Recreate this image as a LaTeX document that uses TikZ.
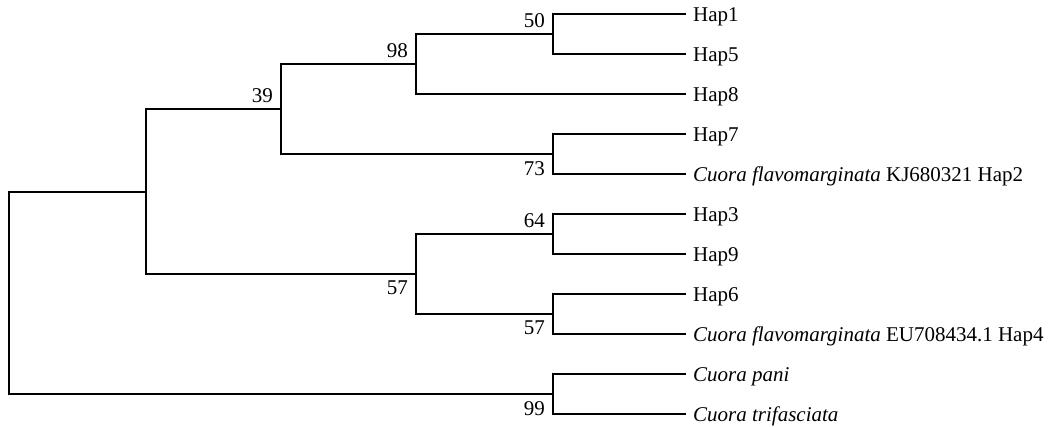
\documentclass[tikz,border=0pt]{standalone}
\usepackage{fontspec}
\setmainfont{Liberation Serif}
\usetikzlibrary{positioning}

\begin{document}
\begin{tikzpicture}[
        x=1pt, y=-1pt,
        every node/.style = {font=\fontsize{21}{24}\selectfont},
        branch/.style = {draw, line width=1.5pt, line cap=rect},
        leaf/.style = {anchor=west, inner xsep=8pt, inner ysep=0pt, text height=16pt, text depth=0pt},
        bsup/.style = {anchor=south east, inner sep=0pt, xshift=-8pt, yshift=6pt},
        bsdown/.style = {anchor=north east, inner sep=0pt, xshift=-8pt, yshift=-7pt}
      ]
      \useasboundingbox (0,0) rectangle (1053,427);

      % ================= LEAVES =================
      \node[leaf] (hap1) at (685,14) {Hap1};
      \node[leaf] (hap5) at (685,54) {Hap5};
      \node[leaf] (hap8) at (685,94) {Hap8};
      \node[leaf] (hap7) at (685,134) {Hap7};
      \node[leaf] (hap2) at (685,174) {\textit{Cuora flavomarginata} KJ680321 Hap2};
      \node[leaf] (hap3) at (685,214) {Hap3};
      \node[leaf] (hap9) at (685,254) {Hap9};
      \node[leaf] (hap6) at (685,294) {Hap6};
      \node[leaf] (hap4) at (685,334) {\textit{Cuora flavomarginata} EU708434.1 Hap4};
      \node[leaf] (pani) at (685,374) {\textit{Cuora pani}};
      \node[leaf] (trif) at (685,414) {\textit{Cuora trifasciata}};

      % ================= INNER NODES =================
      \coordinate (n50) at (553,34);
      \coordinate (n98) at (416,64);
      \coordinate (n73) at (553,154);
      \coordinate (n39) at (281,109);
      \coordinate (n64) at (553,234);
      \coordinate (n57b) at (553,314);
      \coordinate (n57a) at (416,274);
      \coordinate (nin) at (146,192);
      \coordinate (n99) at (553,394);
      \coordinate (root) at (9,293);

      % ================= BRANCHES =================
      \draw[branch] (n50) |- (hap1.west);
      \draw[branch] (n50) |- (hap5.west);
      \draw[branch] (n98) |- (n50);
      \draw[branch] (n98) |- (hap8.west);
      \draw[branch] (n73) |- (hap7.west);
      \draw[branch] (n73) |- (hap2.west);
      \draw[branch] (n39) |- (n98);
      \draw[branch] (n39) |- (n73);
      \draw[branch] (n64) |- (hap3.west);
      \draw[branch] (n64) |- (hap9.west);
      \draw[branch] (n57b) |- (hap6.west);
      \draw[branch] (n57b) |- (hap4.west);
      \draw[branch] (n57a) |- (n64);
      \draw[branch] (n57a) |- (n57b);
      \draw[branch] (nin) |- (n39);
      \draw[branch] (nin) |- (n57a);
      \draw[branch] (n99) |- (pani.west);
      \draw[branch] (n99) |- (trif.west);
      \draw[branch] (root) |- (nin);
      \draw[branch] (root) |- (n99);

      % ================= BOOTSTRAP =================
      \node[bsup] (b50) at (n50) {50};
      \node[bsup] (b98) at (n98) {98};
      \node[bsup] (b39) at (n39) {39};
      \node[bsdown] (b73) at (n73) {73};
      \node[bsup] (b64) at (n64) {64};
      \node[bsdown] (b57b) at (n57b) {57};
      \node[bsdown] (b57a) at (n57a) {57};
      \node[bsdown] (b99) at (n99) {99};

    \end{tikzpicture}
\end{document}
